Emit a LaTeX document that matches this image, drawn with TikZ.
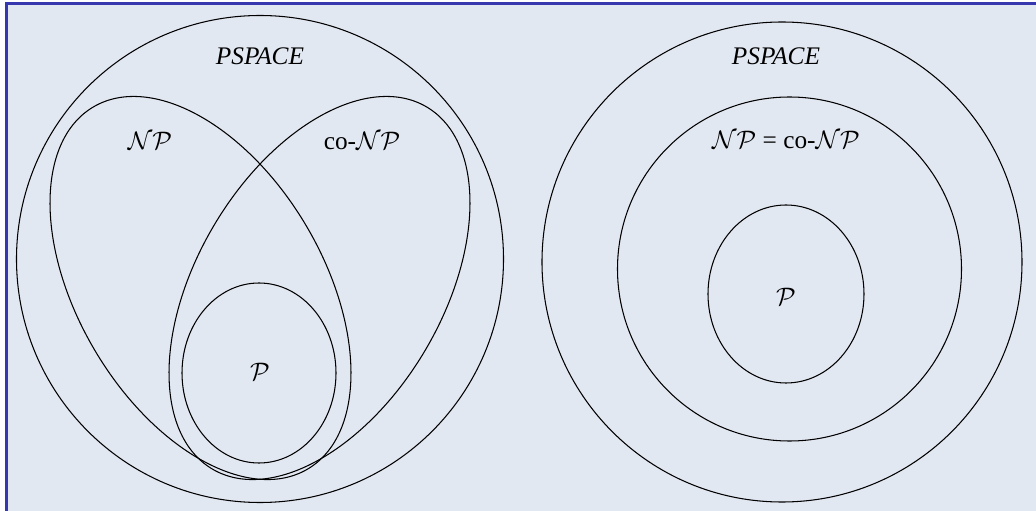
\documentclass[tikz,border=0pt]{standalone}
\usepackage{fontspec}
\setmainfont{Liberation Serif}
\usepackage{amsmath}
\usetikzlibrary{positioning}
\definecolor{bgblue}{RGB}{226,232,242}
\definecolor{frameblue}{RGB}{55,55,175}

\begin{document}
\begin{tikzpicture}[
        x=0.02cm, y=0.02cm,
        set/.style={draw=black, line width=0.6pt},
        lbl/.style={font=\fontsize{14.4}{17}\selectfont, inner sep=0pt},
      ]
      \useasboundingbox (0,0) rectangle (1036,511);
      % background and frame
      \fill[white] (0,0) rectangle (1036,511);
      \fill[bgblue] (6.5,0) rectangle (1036,507.5);
      \draw[frameblue, line width=1.2pt] (6.5,0) -- (6.5,507.5) -- (1036,507.5);
      % left: NP and co-NP apart
      \draw[set] (260,252) circle [radius=243.5];
      \draw[set] (200.5,223) circle [x radius=210.4, y radius=122.7, rotate=-59.35];
      \draw[set] (319.5,223) circle [x radius=210.4, y radius=122.7, rotate=59.35];
      \draw[set] (259,138) circle [x radius=77, y radius=90];
      \node [lbl] (lpspace) at (260,455) {\textit{PSPACE}};
      \node [lbl] (lnp) at (150,370) {$\mathcal{N}\mathcal{P}$};
      \node [lbl] (lconp) at (362,370) {co-$\mathcal{N}\mathcal{P}$};
      \node [lbl] (lp) at (260,139) {$\mathcal{P}$};
      % right: NP = co-NP
      \draw[set] (782,249) circle [radius=240];
      \draw[set] (789.5,242) circle [radius=172];
      \draw[set] (786,217) circle [x radius=78, y radius=89];
      \node [lbl] (rpspace) at (776,455) {\textit{PSPACE}};
      \node [lbl] (rnp) at (786,371) {$\mathcal{N}\mathcal{P}$ = co-$\mathcal{N}\mathcal{P}$};
      \node [lbl] (rp) at (786,214) {$\mathcal{P}$};
    \end{tikzpicture}
\end{document}
